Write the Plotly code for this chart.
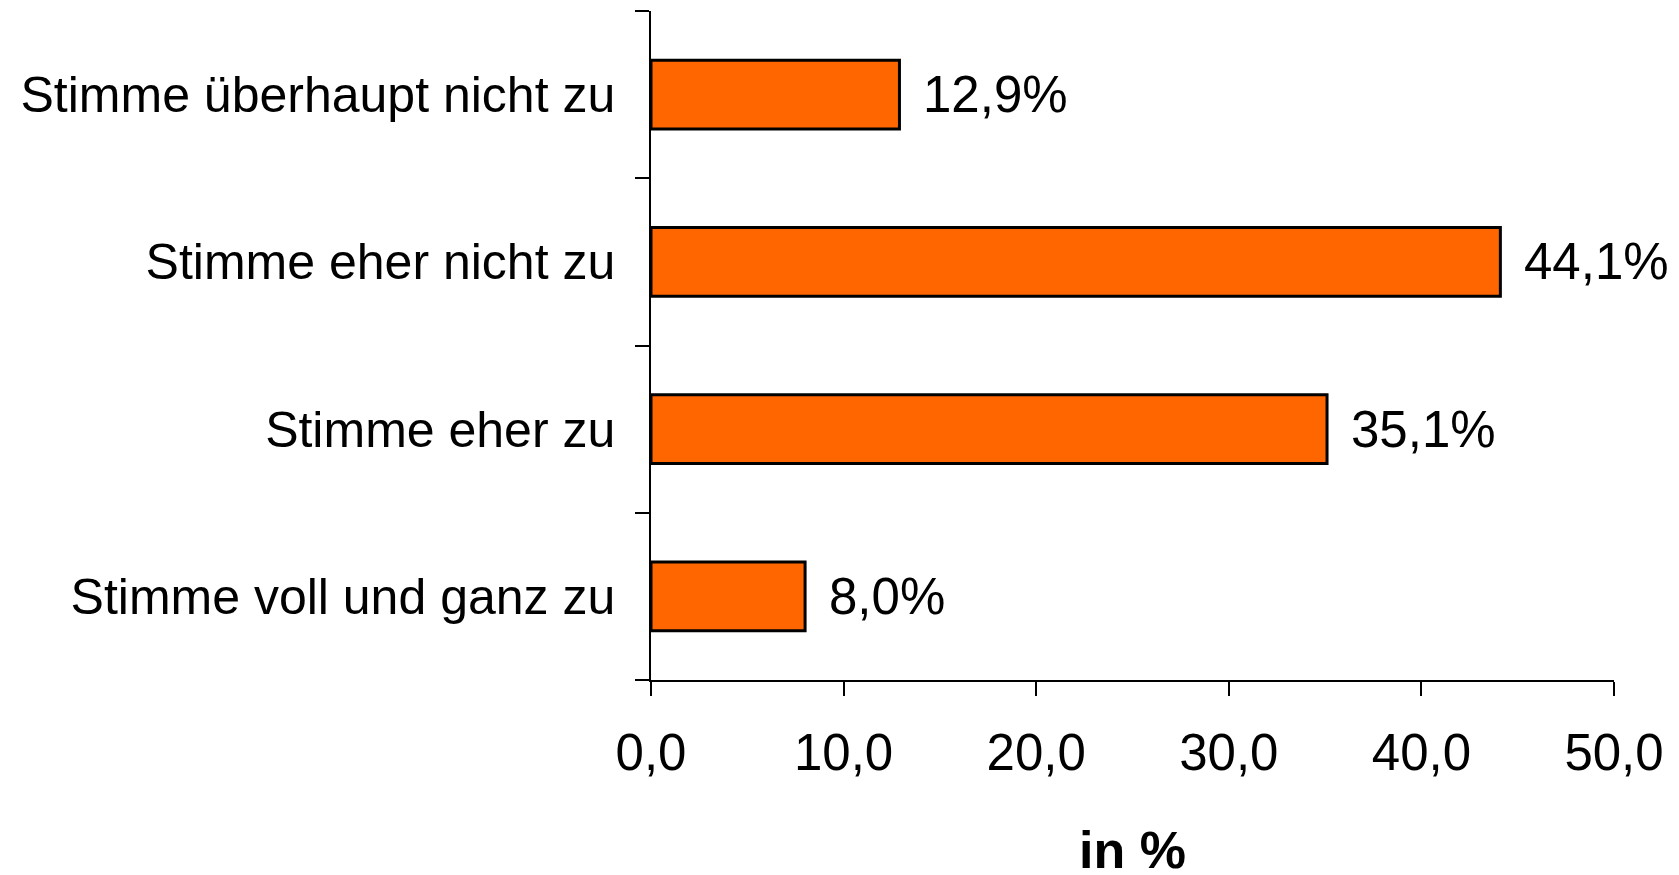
import plotly.graph_objects as go

# categories from bottom to top
categories = [
    "Stimme voll und ganz zu",
    "Stimme eher zu",
    "Stimme eher nicht zu",
    "Stimme überhaupt nicht zu",
]
values = [8.0, 35.1, 44.1, 12.9]
x_ticks = [0, 10, 20, 30, 40, 50]

font_name = "Liberation Sans, Arial, sans-serif"

fig = go.Figure(go.Bar(
    x=values,
    y=categories,
    orientation="h",
    marker=dict(color="#FF6600", line=dict(color="black", width=3)),
    width=0.41,
))

# value labels to the right of each bar
for v, c in zip(values, categories):
    fig.add_annotation(
        x=v, y=c, text=f"{v:.1f}%".replace(".", ","),
        xanchor="left", xshift=22, showarrow=False,
        font=dict(size=51, color="black", family=font_name),
    )

# axis title placed by hand below the tick labels
fig.add_annotation(
    x=0.5, y=-0.254, xref="paper", yref="paper",
    text="<b>in %</b>", showarrow=False, yanchor="middle",
    font=dict(size=52, color="black", family=font_name),
)

fig.update_xaxes(
    range=[0, 50],
    tickvals=x_ticks,
    tickformat=".1f",
    automargin=False,
    showgrid=False,
    zeroline=False,
    showline=True,
    linecolor="black",
    linewidth=1.5,
    ticks="outside",
    ticklen=14,
    tickwidth=1.5,
    tickcolor="black",
    ticklabelstandoff=13,
    tickfont=dict(size=51, color="black", family=font_name),
)
fig.update_yaxes(
    categoryorder="array",
    categoryarray=categories,
    tickson="boundaries",
    automargin=False,
    showgrid=False,
    showline=True,
    linecolor="black",
    linewidth=1.5,
    ticks="outside",
    ticklen=14,
    tickwidth=1.5,
    tickcolor="black",
    ticklabelstandoff=24,
    tickfont=dict(size=50, color="black", family=font_name),
)

fig.update_layout(
    width=1679,
    height=875,
    margin=dict(l=651, r=65, t=11, b=195),
    plot_bgcolor="white",
    paper_bgcolor="white",
    separators=",.",
    showlegend=False,
    font=dict(family=font_name, color="black"),
)

# drop the default page margin so the figure sits at the window's corner
fig.write_html(
    "out.html",
    config={"displayModeBar": False},
    post_script="document.body.style.margin='0';document.body.style.overflow='hidden';",
)
